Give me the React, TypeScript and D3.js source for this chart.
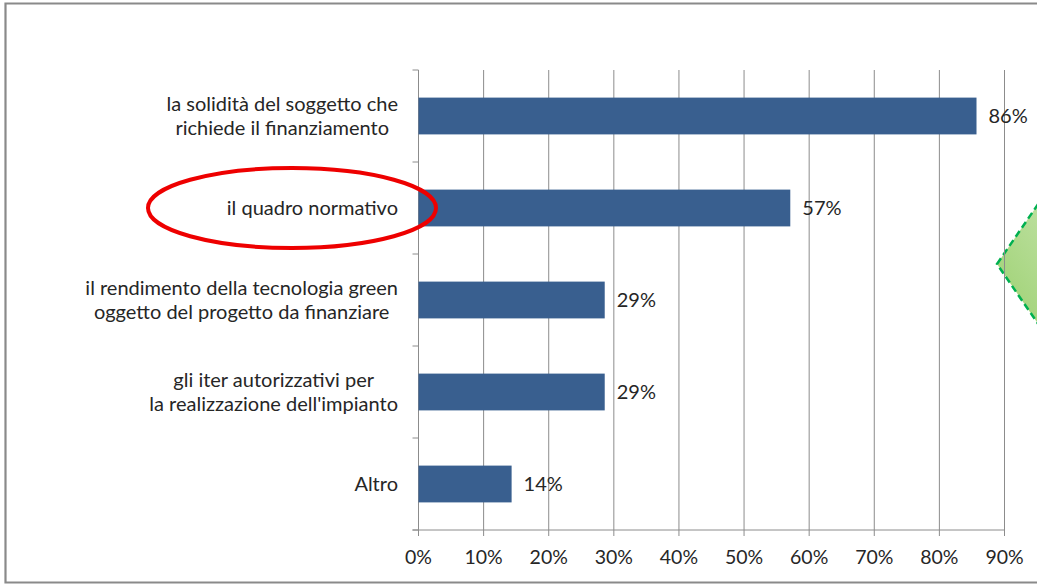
import React, { useRef, useEffect } from "react";
import * as d3 from "d3";

const categories = [
  ["la solidità del soggetto che", "richiede il finanziamento"],
  ["il quadro normativo"],
  ["il rendimento della tecnologia green", "oggetto del progetto da finanziare"],
  ["gli iter autorizzativi per", "la realizzazione dell'impianto"],
  ["Altro"],
];
const values = [85.7, 57.1, 28.6, 28.6, 14.3];
const valueLabels = ["86%", "57%", "29%", "29%", "14%"];
const xTicks = [0, 10, 20, 30, 40, 50, 60, 70, 80, 90];

const W = 1037;
const H = 584;
const FONT = "Lato, 'Open Sans', sans-serif";

const App: React.FC = () => {
  const svgRef = useRef<SVGSVGElement | null>(null);

  useEffect(() => {
    const svg = d3.select(svgRef.current);
    svg.selectAll("*").remove();

    const left = 418.5;
    const right = 1004.5;
    const top = 70;
    const bottom = 530;

    const x = d3.scaleLinear().domain([0, 90]).range([left, right]);
    const y = d3
      .scaleBand<number>()
      .domain(d3.range(categories.length))
      .range([top, bottom])
      .paddingInner(0.6)
      .paddingOuter(0.3);
    const bandStep = (bottom - top) / categories.length;

    // frame
    svg
      .append("path")
      .attr("d", `M${W + 5},3.5 H5.5 V582.5 H${W + 5}`)
      .attr("fill", "none")
      .attr("stroke", "#8a8a8a")
      .attr("stroke-width", 2.2);

    // green diamond shape (partially off-canvas)
    const defs = svg.append("defs");
    const grad = defs
      .append("linearGradient")
      .attr("id", "greenGrad")
      .attr("x1", "0%")
      .attr("y1", "100%")
      .attr("x2", "100%")
      .attr("y2", "0%");
    grad.append("stop").attr("offset", "0%").attr("stop-color", "#92cc62");
    grad.append("stop").attr("offset", "100%").attr("stop-color", "#e4f2d8");
    const cx = 1078;
    const cy = 264;
    const hw = 81;
    const hh = 118;
    svg
      .append("path")
      .attr(
        "d",
        `M${cx - hw},${cy} L${cx},${cy - hh} L${cx + hw},${cy} L${cx},${cy + hh} Z`
      )
      .attr("fill", "url(#greenGrad)")
      .attr("stroke", "#00b050")
      .attr("stroke-width", 2.5)
      .attr("stroke-dasharray", "7,4");

    // gridlines + bottom ticks
    svg
      .append("g")
      .selectAll("line")
      .data(xTicks)
      .join("line")
      .attr("x1", (d) => x(d))
      .attr("x2", (d) => x(d))
      .attr("y1", top)
      .attr("y2", bottom + 6)
      .attr("stroke", "#8c8c8c")
      .attr("stroke-width", 1);

    // x axis line
    svg
      .append("line")
      .attr("x1", left - 6)
      .attr("x2", right)
      .attr("y1", bottom)
      .attr("y2", bottom)
      .attr("stroke", "#8c8c8c");

    // category ticks
    svg
      .append("g")
      .selectAll("line")
      .data(d3.range(categories.length + 1))
      .join("line")
      .attr("x1", left - 6)
      .attr("x2", left)
      .attr("y1", (d) => top + d * bandStep)
      .attr("y2", (d) => top + d * bandStep)
      .attr("stroke", "#8c8c8c");

    // bars
    svg
      .append("g")
      .selectAll("rect")
      .data(values)
      .join("rect")
      .attr("x", x(0))
      .attr("y", (_, i) => y(i)!)
      .attr("width", (d) => x(d) - x(0))
      .attr("height", y.bandwidth())
      .attr("fill", "#395f8f");

    // value labels
    svg
      .append("g")
      .selectAll("text")
      .data(values)
      .join("text")
      .attr("x", (d) => x(d) + 12)
      .attr("y", (_, i) => y(i)! + y.bandwidth() / 2)
      .attr("dy", "0.35em")
      .attr("font-family", FONT)
      .attr("font-size", 20)
      .attr("fill", "#262626")
      .text((_, i) => valueLabels[i]);

    // x tick labels
    svg
      .append("g")
      .selectAll("text")
      .data(xTicks)
      .join("text")
      .attr("x", (d) => x(d))
      .attr("y", 557)
      .attr("dy", "0.35em")
      .attr("text-anchor", "middle")
      .attr("font-family", FONT)
      .attr("font-size", 19.5)
      .attr("fill", "#262626")
      .text((d) => `${d}%`);

    // category labels: block right-aligned, lines centered
    const labelRight = 398;
    const lineH = 24;
    categories.forEach((lines, i) => {
      const cyBand = y(i)! + y.bandwidth() / 2;
      const g = svg.append("g");
      const texts = g
        .selectAll("text")
        .data(lines)
        .join("text")
        .attr("y", (_, j) => cyBand + (j - (lines.length - 1) / 2) * lineH)
        .attr("dy", "0.35em")
        .attr("text-anchor", "middle")
        .attr("font-family", FONT)
        .attr("font-size", 20)
        .attr("fill", "#262626")
        .text((d) => d);
      let maxW = 0;
      texts.each(function () {
        maxW = Math.max(maxW, (this as SVGTextElement).getComputedTextLength());
      });
      texts.attr("x", labelRight - maxW / 2);
    });

    // red ellipse highlight
    svg
      .append("ellipse")
      .attr("cx", 292)
      .attr("cy", y(1)! + y.bandwidth() / 2)
      .attr("rx", 144)
      .attr("ry", 40)
      .attr("fill", "none")
      .attr("stroke", "#ee0000")
      .attr("stroke-width", 4);

    return () => {
      svg.selectAll("*").remove();
    };
  }, []);

  return (
    <div style={{ position: "fixed", left: 0, top: 0, width: W, height: H, background: "#fff" }}>
      <svg ref={svgRef} width={W} height={H}></svg>
    </div>
  );
};

export default App;
